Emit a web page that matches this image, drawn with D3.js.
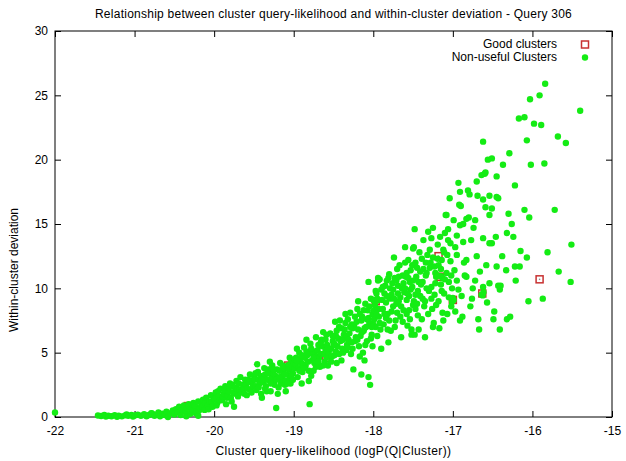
<!DOCTYPE html>
<html>
<head>
<meta charset="utf-8">
<script src="https://cdn.jsdelivr.net/npm/d3@7"></script>
<style>
  body { margin: 0; background: #fff; }
  text { font-family: "Liberation Sans", Arial, sans-serif; fill: #000; }
</style>
</head>
<body>
<svg id="chart" width="626" height="461"></svg>
<script>
// Axis setup
const xTicks = [-22, -21, -20, -19, -18, -17, -16, -15];
const yTicks = [0, 5, 10, 15, 20, 25, 30];

// Good clusters (red open squares)
const goodClusters = [
  [-15.91, 10.7], [-17.18, 12.5], [-17.16, 10.9], [-17.0, 9.1], [-16.63, 9.6],
  [-17.97, 9.0], [-18.59, 4.6], [-19.07, 4.0], [-20.33, 0.85]
];

// Non-useful clusters, split by region of the plot
const lowTail = [
  [-22.0, 0.35],
  [-21.46, 0.12], [-21.42, 0.08], [-21.38, 0.15], [-21.36, 0.03], [-21.33, 0.1], [-21.29, 0.06],
  [-21.25, 0.14], [-21.22, 0.02], [-21.2, 0.1], [-21.16, 0.05], [-21.12, 0.13], [-21.1, 0.2],
  [-21.08, 0.09], [-21.04, 0.16], [-21.02, 0.04], [-21.0, 0.12],
  [-20.96, 0.18], [-20.92, 0.1], [-20.88, 0.22], [-20.85, 0.05], [-20.82, 0.15], [-20.79, 0.3],
  [-20.78, 0.28], [-20.75, 0.1], [-20.72, 0.2], [-20.7, 0.35], [-20.68, 0.05], [-20.65, 0.25],
  [-20.62, 0.15], [-20.6, 0.42], [-20.58, 0.0], [-20.55, 0.3], [-20.52, 0.5], [-20.5, 0.2],
  [-20.48, 0.6], [-20.46, 0.35], [-20.44, 0.8], [-20.42, 0.15], [-20.4, 0.55], [-20.38, 0.9],
  [-20.36, 0.4], [-20.35, 0.05], [-20.34, 0.7], [-20.32, 1.0], [-20.32, 0.9], [-20.3, 0.25],
  [-20.28, 0.6], [-20.27, 0.95], [-20.26, 1.1], [-20.24, 0.85], [-20.23, 0.3], [-20.22, 0.45],
  [-20.2, 1.2], [-20.2, 0.1], [-20.19, 0.5], [-20.18, 0.7], [-20.16, 1.0], [-20.15, 0.8],
  [-20.14, 1.35], [-20.12, 0.55], [-20.11, 1.1], [-20.1, 1.5], [-20.08, 0.9], [-20.07, 0.6],
  [-20.06, 1.2], [-20.04, 1.7], [-20.03, 1.2], [-20.02, 0.8], [-20.01, 1.6], [-20.0, 1.4]
];

const denseBand = [
  [-19.99, 1.4], [-19.98, 1.9], [-19.97, 0.9], [-19.96, 1.1], [-19.95, 2.0], [-19.94, 1.6],
  [-19.93, 1.3], [-19.92, 2.2], [-19.9, 1.3], [-19.89, 1.6], [-19.88, 1.8], [-19.87, 2.1],
  [-19.86, 2.4], [-19.85, 1.0], [-19.84, 1.5], [-19.83, 1.7], [-19.82, 2.0], [-19.81, 2.3],
  [-19.8, 2.6], [-19.79, 1.5], [-19.78, 1.2], [-19.77, 2.5], [-19.76, 1.9], [-19.75, 0.8],
  [-19.74, 2.3], [-19.73, 1.8], [-19.72, 2.8], [-19.71, 2.2], [-19.7, 1.6], [-19.69, 2.6],
  [-19.68, 2.1], [-19.67, 3.1], [-19.66, 1.9], [-19.64, 2.5], [-19.63, 2.2], [-19.62, 1.8],
  [-19.61, 2.9], [-19.6, 2.5], [-19.59, 1.7], [-19.58, 2.2], [-19.57, 2.9], [-19.56, 2.7],
  [-19.55, 3.3], [-19.54, 2.1], [-19.53, 1.9], [-19.52, 2.8], [-19.51, 2.4], [-19.5, 3.2],
  [-19.49, 2.9], [-19.48, 2.4], [-19.47, 2.1], [-19.46, 4.1], [-19.45, 3.5], [-19.44, 2.9],
  [-19.43, 2.6], [-19.42, 3.2], [-19.41, 1.8], [-19.4, 1.5], [-19.39, 3.1], [-19.38, 2.7],
  [-19.37, 3.8], [-19.36, 3.3], [-19.35, 2.4], [-19.34, 2.0], [-19.33, 2.9], [-19.32, 3.7],
  [-19.31, 3.4], [-19.3, 4.3], [-19.29, 2.0], [-19.28, 3.0], [-19.27, 4.0], [-19.26, 3.4],
  [-19.25, 2.7], [-19.24, 2.5], [-19.23, 3.2], [-19.22, 0.7], [-19.21, 3.7], [-19.2, 3.0],
  [-19.2, 1.8], [-19.19, 2.3], [-19.18, 3.6], [-19.17, 4.2], [-19.16, 2.6], [-19.15, 2.9],
  [-19.14, 3.2], [-19.13, 3.5], [-19.12, 3.8], [-19.11, 2.5], [-19.1, 2.8], [-19.1, 2.0],
  [-19.09, 3.9], [-19.08, 3.3], [-19.07, 4.0], [-19.06, 3.7], [-19.06, 4.05], [-19.05, 4.6],
  [-19.05, 3.0], [-19.04, 2.6], [-19.03, 4.4], [-19.02, 3.9], [-19.01, 3.4], [-19.0, 4.2],
  [-18.99, 3.8], [-18.98, 4.1], [-18.97, 4.6], [-18.96, 5.3], [-18.95, 3.1], [-18.94, 3.8],
  [-18.93, 5.0], [-18.92, 4.5], [-18.91, 4.2], [-18.9, 2.6], [-18.89, 3.5], [-18.88, 4.1],
  [-18.87, 5.4], [-18.86, 4.6], [-18.85, 4.0], [-18.84, 6.0], [-18.83, 4.8], [-18.82, 4.3],
  [-18.81, 2.8], [-18.8, 5.0], [-18.8, 1.0], [-18.79, 5.7], [-18.78, 3.2], [-18.77, 4.4],
  [-18.76, 4.9], [-18.75, 3.6], [-18.74, 4.2], [-18.73, 5.1], [-18.72, 6.2], [-18.71, 4.7],
  [-18.7, 5.2], [-18.69, 5.6], [-18.68, 4.6], [-18.67, 3.9], [-18.66, 4.9], [-18.65, 6.0],
  [-18.64, 5.5], [-18.63, 6.6], [-18.62, 4.9], [-18.61, 4.3], [-18.6, 5.2], [-18.59, 6.4],
  [-18.585, 4.65], [-18.58, 5.6], [-18.57, 4.0], [-18.56, 5.0], [-18.55, 3.1], [-18.54, 6.5],
  [-18.53, 5.3], [-18.52, 4.7], [-18.51, 5.9], [-18.5, 5.6],
  [-18.49, 4.8], [-18.48, 7.4], [-18.47, 6.3], [-18.47, 5.1], [-18.46, 4.2], [-18.45, 5.5],
  [-18.44, 6.1], [-18.43, 7.0], [-18.42, 7.5], [-18.41, 5.9], [-18.4, 4.4], [-18.39, 5.3],
  [-18.38, 6.0], [-18.37, 6.4], [-18.36, 6.8], [-18.35, 8.0], [-18.34, 5.2], [-18.33, 5.6],
  [-18.33, 6.3], [-18.32, 7.6], [-18.31, 6.0], [-18.3, 6.5], [-18.29, 8.1], [-18.28, 4.9],
  [-18.27, 5.8], [-18.27, 7.2], [-18.26, 6.9], [-18.25, 3.7], [-18.24, 7.1], [-18.23, 5.9],
  [-18.22, 6.2], [-18.21, 7.4], [-18.2, 8.4], [-18.19, 9.0], [-18.19, 6.8], [-18.18, 5.5],
  [-18.17, 4.7], [-18.16, 6.3], [-18.15, 3.3], [-18.15, 7.5], [-18.14, 7.8], [-18.13, 5.0],
  [-18.12, 6.7], [-18.11, 4.4], [-18.11, 6.9], [-18.1, 8.8], [-18.09, 7.0], [-18.08, 5.9],
  [-18.07, 8.3], [-18.06, 3.1], [-18.06, 7.7], [-18.06, 10.5], [-18.05, 7.3], [-18.04, 2.5],
  [-18.03, 9.2], [-18.03, 6.1], [-18.02, 6.4], [-18.01, 8.0], [-18.0, 7.2],
  [-17.99, 7.6], [-17.98, 8.7], [-17.97, 9.8], [-17.97, 7.0], [-17.96, 9.6], [-17.95, 9.05],
  [-17.95, 6.3], [-17.94, 10.6], [-17.94, 10.8], [-17.93, 8.4], [-17.93, 7.8], [-17.92, 10.7],
  [-17.91, 6.8], [-17.9, 5.3], [-17.89, 9.1], [-17.88, 8.4], [-17.87, 7.2], [-17.86, 9.6],
  [-17.85, 10.2], [-17.84, 7.7], [-17.84, 8.9], [-17.83, 10.6], [-17.82, 8.0], [-17.81, 5.8],
  [-17.81, 10.8], [-17.8, 11.1], [-17.8, 7.5], [-17.79, 9.2], [-17.78, 6.7], [-17.77, 9.5],
  [-17.76, 10.4], [-17.75, 8.6], [-17.75, 9.9], [-17.74, 12.4], [-17.73, 10.8], [-17.72, 7.5],
  [-17.71, 8.8], [-17.71, 10.6], [-17.7, 11.5], [-17.7, 8.1], [-17.69, 10.2], [-17.68, 9.0],
  [-17.67, 11.8], [-17.66, 7.8], [-17.66, 9.3], [-17.65, 6.2], [-17.64, 10.0], [-17.63, 11.0],
  [-17.62, 8.3], [-17.62, 10.4], [-17.61, 9.7], [-17.6, 13.2], [-17.59, 10.9], [-17.58, 8.0],
  [-17.58, 9.1], [-17.58, 11.2], [-17.57, 7.1], [-17.56, 12.2], [-17.55, 9.4], [-17.55, 8.3],
  [-17.54, 10.5], [-17.53, 11.4], [-17.53, 9.9], [-17.52, 6.8], [-17.52, 6.4], [-17.51, 10.1],
  [-17.5, 8.7], [-17.5, 10.6], [-17.5, 13.1]
];

// Extra points filling the solid core of the band
const coreBand = [
  [-19.48, 3.4], [-19.44, 2.3], [-19.4, 2.9], [-19.36, 2.2], [-19.33, 3.4], [-19.29, 2.6],
  [-19.25, 3.7], [-19.22, 2.9], [-19.18, 3.1], [-19.14, 4.0], [-19.11, 3.3], [-19.08, 2.6],
  [-19.03, 3.2], [-19.01, 2.9],
  [-18.99, 4.5], [-18.96, 4.4], [-18.93, 3.6], [-18.9, 4.8], [-18.87, 3.8], [-18.84, 5.1],
  [-18.81, 3.6], [-18.78, 5.3], [-18.75, 4.6], [-18.72, 3.9], [-18.69, 4.3], [-18.66, 5.8],
  [-18.63, 4.0], [-18.6, 6.0], [-18.57, 5.3], [-18.53, 4.3], [-18.51, 6.3],
  [-18.49, 5.7], [-18.46, 6.7], [-18.43, 4.9], [-18.4, 6.9], [-18.38, 5.0], [-18.35, 7.3],
  [-18.32, 5.4], [-18.29, 7.0], [-18.26, 5.3], [-18.23, 7.8], [-18.2, 6.0], [-18.17, 8.0],
  [-18.14, 6.6], [-18.12, 8.3], [-18.1, 5.6], [-18.08, 7.6], [-18.05, 8.6], [-18.02, 7.0],
  [-18.0, 9.1], [-18.01, 5.5],
  [-17.99, 8.3], [-17.96, 8.0], [-17.95, 9.2], [-17.92, 7.3], [-17.9, 9.9], [-17.88, 10.1],
  [-17.86, 8.0], [-17.83, 9.4], [-17.82, 6.8], [-17.79, 10.0], [-17.77, 8.2], [-17.74, 9.2],
  [-17.73, 7.0], [-17.69, 9.6], [-17.68, 10.9], [-17.65, 8.6], [-17.63, 7.4], [-17.6, 10.0],
  [-17.6, 12.0], [-17.57, 9.6], [-17.56, 10.8], [-17.54, 7.6], [-17.51, 11.8],
  [-17.49, 9.0], [-17.47, 12.0], [-17.45, 8.8], [-17.43, 10.5], [-17.41, 9.4], [-17.39, 7.6],
  [-17.37, 11.5], [-17.34, 12.0], [-17.33, 10.0], [-17.31, 8.0], [-17.29, 13.0], [-17.27, 9.2],
  [-17.25, 12.4], [-17.22, 11.2], [-17.21, 8.7], [-17.19, 12.3], [-17.18, 11.8], [-17.15, 10.95],
  [-17.14, 12.2], [-17.13, 10.8], [-17.1, 14.3], [-17.07, 12.6], [-17.05, 10.5], [-17.03, 13.5],
  [-17.02, 8.6], [-17.0, 9.25], [-17.01, 8.95], [-16.99, 9.1]
];

const upperSpread = [
  [-17.49, 13.2], [-17.48, 14.6], [-17.48, 6.4], [-17.47, 9.5], [-17.47, 8.4], [-17.46, 10.9],
  [-17.45, 11.6], [-17.44, 7.9], [-17.44, 9.8], [-17.43, 6.8], [-17.42, 12.8],
  [-17.41, 11.3], [-17.4, 10.3], [-17.39, 12.3], [-17.38, 9.2], [-17.38, 10.5], [-17.37, 13.75],
  [-17.36, 8.6], [-17.35, 6.2], [-17.35, 9.0], [-17.34, 11.0], [-17.33, 11.2], [-17.32, 12.6],
  [-17.31, 14.4], [-17.3, 9.8], [-17.29, 11.6], [-17.28, 12.0], [-17.27, 13.9], [-17.27, 10.1],
  [-17.26, 8.4], [-17.25, 14.7], [-17.25, 7.0], [-17.24, 7.3], [-17.23, 11.7], [-17.23, 9.5],
  [-17.22, 10.4], [-17.21, 10.9], [-17.19, 13.4], [-17.19, 11.0], [-17.18, 9.0],
  [-17.17, 6.9], [-17.16, 14.0], [-17.15, 11.5], [-17.15, 10.3], [-17.14, 9.8], [-17.13, 8.1],
  [-17.12, 13.0], [-17.12, 7.5], [-17.11, 12.8], [-17.11, 9.6], [-17.1, 10.7], [-17.09, 15.7],
  [-17.08, 15.7], [-17.08, 11.2], [-17.07, 8.0], [-17.06, 14.6], [-17.06, 13.75], [-17.05, 9.3],
  [-17.04, 17.0], [-17.03, 12.1], [-17.02, 11.0], [-17.01, 10.0],
  [-16.99, 15.3], [-16.98, 11.4], [-16.97, 8.2], [-16.97, 13.2], [-16.95, 12.6], [-16.95, 14.1],
  [-16.95, 10.6], [-16.93, 18.2], [-16.93, 9.9], [-16.92, 16.5], [-16.91, 17.5], [-16.91, 14.9],
  [-16.91, 7.5], [-16.9, 16.4], [-16.89, 9.4], [-16.88, 7.8], [-16.87, 13.6], [-16.87, 15.0],
  [-16.86, 12.0], [-16.85, 11.0], [-16.83, 15.4], [-16.83, 12.2], [-16.83, 10.9], [-16.81, 17.6],
  [-16.8, 15.5], [-16.79, 17.3], [-16.78, 8.6], [-16.77, 13.75], [-16.76, 9.2], [-16.75, 10.0],
  [-16.74, 14.7], [-16.72, 15.3], [-16.72, 10.6], [-16.7, 18.3], [-16.7, 12.5], [-16.69, 17.2],
  [-16.68, 7.6], [-16.67, 6.8], [-16.66, 11.3], [-16.64, 18.8], [-16.62, 21.4], [-16.62, 16.9],
  [-16.62, 13.9], [-16.62, 10.1], [-16.615, 9.7], [-16.64, 9.5], [-16.625, 9.45], [-16.6, 18.9],
  [-16.59, 19.0], [-16.59, 16.3], [-16.58, 11.8], [-16.57, 8.9], [-16.56, 20.0], [-16.54, 17.2],
  [-16.54, 15.7], [-16.54, 13.5], [-16.54, 10.4], [-16.51, 20.1], [-16.51, 16.2], [-16.51, 13.5],
  [-16.49, 7.6], [-16.48, 8.2], [-16.46, 14.0], [-16.45, 18.7], [-16.45, 17.1], [-16.45, 11.7],
  [-16.43, 17.0], [-16.43, 10.2], [-16.41, 6.8], [-16.41, 9.9], [-16.4, 10.2], [-16.38, 12.5],
  [-16.37, 19.6], [-16.33, 11.4], [-16.32, 14.3], [-16.32, 7.6], [-16.3, 15.8], [-16.29, 20.5],
  [-16.28, 7.8], [-16.26, 15.0], [-16.24, 14.0], [-16.22, 18.0], [-16.22, 11.7], [-16.21, 10.6],
  [-16.17, 23.2], [-16.16, 11.7], [-16.15, 12.9], [-16.1, 23.3], [-16.1, 16.1], [-16.07, 21.5],
  [-16.07, 12.4], [-16.05, 9.0], [-16.04, 15.5], [-16.03, 24.7], [-16.02, 19.6],
  [-15.98, 22.8], [-15.91, 25.0], [-15.89, 22.7], [-15.87, 9.2], [-15.85, 19.7], [-15.84, 25.9],
  [-15.81, 12.8], [-15.72, 16.1], [-15.68, 21.8], [-15.67, 11.3], [-15.58, 21.3], [-15.52, 10.5],
  [-15.51, 13.4], [-15.4, 23.8]
];

const nonUseful = lowTail.concat(denseBand, coreBand, upperSpread);

const svg = d3.select("#chart");
const plotLeft = 55, plotRight = 612, plotTop = 31, plotBottom = 417;

const x = d3.scaleLinear().domain([-22, -15]).range([plotLeft, plotRight]);
const y = d3.scaleLinear().domain([0, 30]).range([plotBottom, plotTop]);

// Axes with inward ticks on all four sides (gnuplot style)
svg.append("g")
  .attr("transform", `translate(0,${plotBottom})`)
  .call(d3.axisBottom(x).tickValues(xTicks).tickSizeInner(-6).tickSizeOuter(0)
    .tickPadding(9).tickFormat(d => String(d)))
  .call(g => g.select(".domain").remove());
svg.append("g")
  .attr("transform", `translate(0,${plotTop})`)
  .call(d3.axisTop(x).tickValues(xTicks).tickSizeInner(-6).tickSizeOuter(0).tickFormat(""))
  .call(g => g.select(".domain").remove());
svg.append("g")
  .attr("transform", `translate(${plotLeft},0)`)
  .call(d3.axisLeft(y).tickValues(yTicks).tickSizeInner(-6).tickSizeOuter(0)
    .tickPadding(7).tickFormat(d => String(d)))
  .call(g => g.select(".domain").remove());
svg.append("g")
  .attr("transform", `translate(${plotRight},0)`)
  .call(d3.axisRight(y).tickValues(yTicks).tickSizeInner(-6).tickSizeOuter(0).tickFormat(""))
  .call(g => g.select(".domain").remove());

svg.selectAll(".tick text")
  .attr("font-size", 12)
  .attr("font-family", "Liberation Sans, Arial, sans-serif")
  .attr("fill", "#000");
svg.selectAll(".tick line").attr("stroke", "#000");

svg.append("rect")
  .attr("x", plotLeft).attr("y", plotTop)
  .attr("width", plotRight - plotLeft).attr("height", plotBottom - plotTop)
  .attr("fill", "none").attr("stroke", "#000").attr("stroke-width", 1);

// Good clusters drawn first, green points on top
const sq = 7;
const goodG = svg.append("g");
goodG.selectAll("rect")
  .data(goodClusters)
  .join("rect")
  .attr("x", d => x(d[0]) - sq / 2)
  .attr("y", d => y(d[1]) - sq / 2)
  .attr("width", sq).attr("height", sq)
  .attr("fill", "#fff")
  .attr("stroke", "#c83232")
  .attr("stroke-width", 1.5);
goodG.selectAll("circle")
  .data(goodClusters)
  .join("circle")
  .attr("cx", d => x(d[0]))
  .attr("cy", d => y(d[1]))
  .attr("r", 0.8)
  .attr("fill", "#888");

svg.append("g")
  .selectAll("circle")
  .data(nonUseful)
  .join("circle")
  .attr("cx", d => x(d[0]))
  .attr("cy", d => y(d[1]))
  .attr("r", 3.2)
  .attr("fill", "#14ec14");

// Title and axis labels
svg.append("text")
  .attr("x", (plotLeft + plotRight) / 2).attr("y", 18)
  .attr("text-anchor", "middle").attr("font-size", 12)
  .attr("letter-spacing", 0.25)
  .text("Relationship between cluster query-likelihood and within-cluster deviation - Query 306");

svg.append("text")
  .attr("x", (plotLeft + plotRight) / 2).attr("y", 455)
  .attr("text-anchor", "middle").attr("font-size", 12)
  .attr("letter-spacing", 0.4)
  .text("Cluster query-likelihood (logP(Q|Cluster))");

svg.append("text")
  .attr("transform", `translate(18,270) rotate(-90)`)
  .attr("text-anchor", "middle").attr("font-size", 12)
  .text("Within-cluster deviation");

// Legend
const legend = svg.append("g");
legend.append("text")
  .attr("x", 557).attr("y", 48)
  .attr("text-anchor", "end").attr("font-size", 12)
  .text("Good clusters");
legend.append("text")
  .attr("x", 557).attr("y", 61)
  .attr("text-anchor", "end").attr("font-size", 12)
  .text("Non-useful Clusters");
legend.append("rect")
  .attr("x", 585 - sq / 2).attr("y", 44.5 - sq / 2)
  .attr("width", sq).attr("height", sq)
  .attr("fill", "#fff").attr("stroke", "#c83232").attr("stroke-width", 1.5);
legend.append("circle")
  .attr("cx", 585).attr("cy", 57.5).attr("r", 3.2)
  .attr("fill", "#14ec14");
</script>
</body>
</html>
